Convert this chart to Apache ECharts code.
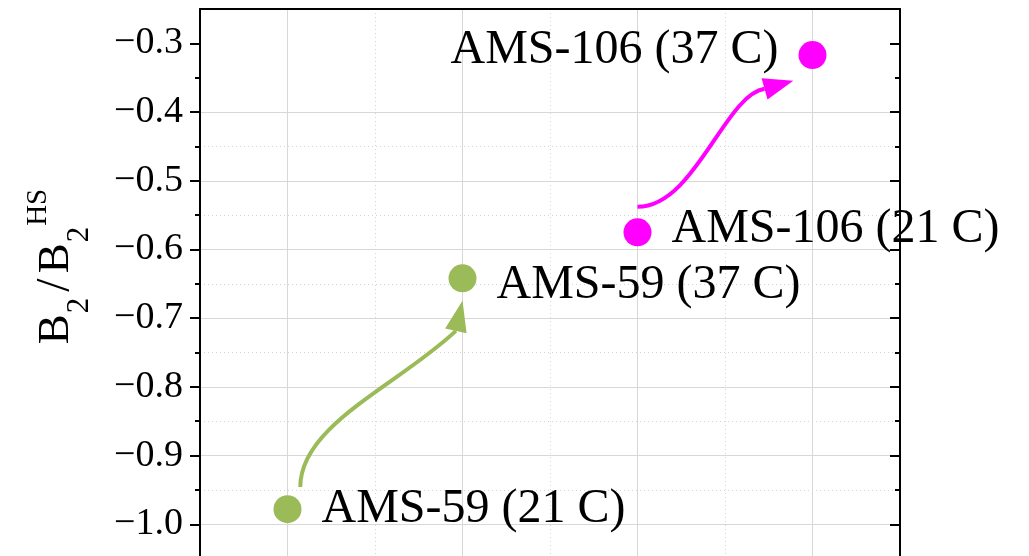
<!DOCTYPE html>
<html><head><meta charset="utf-8">
<script src="https://cdn.jsdelivr.net/npm/echarts@6/dist/echarts.min.js"></script>
<style>html,body{margin:0;padding:0;background:#fff}#c{width:1029px;height:556px}</style>
</head><body><div id="c"></div>
<script>
// ---- data ----
const sampleNames = ['AMS-59 (21 C)', 'AMS-59 (37 C)', 'AMS-106 (21 C)', 'AMS-106 (37 C)'];
const sampleX = [1, 2, 3, 4];
const sampleY = [-0.978, -0.642, -0.575, -0.317];
const sampleGroup = [0, 0, 1, 1];
const yMajorTicks = [-1.1, -1.0, -0.9, -0.8, -0.7, -0.6, -0.5, -0.4, -0.3];
const yMinorTicks = [-1.05, -0.95, -0.85, -0.75, -0.65, -0.55, -0.45, -0.35];
// arrows (data coords): start, control1, control2, end, tip
const arrowGreen = [1.073, -0.9456, 1.073, -0.8553, 1.635, -0.7971, 1.962, -0.7185, 2.0, -0.6748];
const arrowMagenta = [3.0, -0.538, 3.327, -0.538, 3.499, -0.375, 3.726, -0.3662, 3.890, -0.3546];

// ---- styles ----
const groupColors = ['#9BBB59', '#FF00FF'];
const serif = 'Liberation Serif';
const labelSide = ['right', 'right', 'right', 'left'];
const labelShift = [[0, 0], [0, 7], [0, -3], [0, -5]];
const fmt = v => (v < 0 ? '\u2212' : '') + Math.abs(v).toFixed(1);

const chart = echarts.init(document.getElementById('c'), null, {renderer: 'canvas'});

const scatterData = sampleX.map((x, i) => ({
  value: [x, sampleY[i]],
  name: sampleNames[i],
  itemStyle: {color: groupColors[sampleGroup[i]], opacity: 1},
  label: {position: labelSide[i], offset: labelShift[i]}
}));

const gridLine = '#d8d8d8';
const dotLine = '#d4d4d4';
const yBase = {type: 'value', min: -1.1, max: -0.25, gridIndex: 0};

const option = {
  backgroundColor: '#fff',
  animation: false,
  grid: {left: 200, top: 9, width: 700, height: 584, containLabel: false, outerBoundsMode: 'none'},
  xAxis: [
    {type: 'value', position: 'top', min: 0.5, max: 4.5, splitNumber: 4,
     axisLine: {show: true, onZero: false, lineStyle: {color: '#000', width: 2}},
     axisTick: {show: false}, axisLabel: {show: false},
     splitLine: {show: true, showMinLine: false, showMaxLine: false, lineStyle: {color: gridLine, width: 1}}},
    {type: 'value', position: 'top', min: 0, max: 8, interval: 1,
     axisLine: {show: false}, axisTick: {show: false}, axisLabel: {show: false},
     splitLine: {show: true, showMinLine: false, showMaxLine: false, lineStyle: {color: dotLine, width: 1, type: [1, 3]}}}
  ],
  yAxis: [
    Object.assign({}, yBase, {
      position: 'left', interval: 0.1,
      axisLine: {show: true, onZero: false, lineStyle: {color: '#000', width: 2}},
      axisTick: {show: true, inside: false, length: 10, customValues: yMajorTicks, lineStyle: {color: '#000', width: 2}},
      axisLabel: {show: true, customValues: yMajorTicks, formatter: fmt, margin: 17,
        fontFamily: serif, fontSize: 38, color: '#000'},
      splitLine: {show: true, showMinLine: false, showMaxLine: false, lineStyle: {color: gridLine, width: 1}},
      name: '{b|B}{sub|2}{sl|/}{b|B}{sub|2}{sup|HS}',
      nameLocation: 'middle', nameRotate: 90, nameGap: 132,
      nameTextStyle: {padding: [0, 0, 0, 69], color: '#000',
        rich: {
          b: {fontFamily: serif, fontSize: 45, lineHeight: 45, verticalAlign: 'top', padding: [14, 0, 0, 0], color: '#000'},
          sl: {fontFamily: serif, fontSize: 48, lineHeight: 48, verticalAlign: 'top', padding: [12, 5, 0, 5], color: '#000'},
          sub: {fontFamily: serif, fontSize: 31, lineHeight: 31, verticalAlign: 'top', padding: [44, 1, 0, 1], color: '#000'},
          sup: {fontFamily: serif, fontSize: 29, lineHeight: 29, verticalAlign: 'top', padding: [4, 0, 0, 0], color: '#000'}
        }}
    }),
    Object.assign({}, yBase, {
      position: 'left', interval: 0.05,
      axisLine: {show: false},
      axisTick: {show: true, inside: false, length: 5, customValues: yMinorTicks, lineStyle: {color: '#000', width: 2}},
      axisLabel: {show: false},
      splitLine: {show: true, showMinLine: false, showMaxLine: false, lineStyle: {color: dotLine, width: 1, type: [1, 3]}}
    }),
    Object.assign({}, yBase, {
      position: 'right', interval: 0.1,
      axisLine: {show: true, onZero: false, lineStyle: {color: '#000', width: 2}},
      axisTick: {show: true, inside: true, length: 10, customValues: yMajorTicks, lineStyle: {color: '#000', width: 2}},
      axisLabel: {show: false}, splitLine: {show: false}
    }),
    Object.assign({}, yBase, {
      position: 'right', interval: 0.05,
      axisLine: {show: false},
      axisTick: {show: true, inside: true, length: 5, customValues: yMinorTicks, lineStyle: {color: '#000', width: 2}},
      axisLabel: {show: false}, splitLine: {show: false}
    })
  ],
  series: [
    {
      type: 'custom', xAxisIndex: 0, yAxisIndex: 0, z: 3,
      data: [arrowGreen, arrowMagenta],
      renderItem: function (params, api) {
        const p = [];
        for (let i = 0; i < 5; i++) p.push(api.coord([api.value(2 * i), api.value(2 * i + 1)]));
        const color = groupColors[params.dataIndex];
        const tip = p[4], base = p[3];
        const dx = tip[0] - base[0], dy = tip[1] - base[1];
        const len = Math.hypot(dx, dy);
        const nx = -dy / len, ny = dx / len;
        const hw = 11;
        return {type: 'group', children: [
          {type: 'bezierCurve', shape: {x1: p[0][0], y1: p[0][1], cpx1: p[1][0], cpy1: p[1][1],
            cpx2: p[2][0], cpy2: p[2][1], x2: p[3][0], y2: p[3][1]},
           style: {stroke: color, lineWidth: 4, fill: null}},
          {type: 'polygon', shape: {points: [tip, [base[0] + nx * hw, base[1] + ny * hw], [base[0] - nx * hw, base[1] - ny * hw]]},
           style: {fill: color}}
        ]};
      }
    },
    {
      type: 'scatter', xAxisIndex: 0, yAxisIndex: 0, z: 4,
      symbol: 'circle', symbolSize: 28,
      itemStyle: {opacity: 1},
      data: scatterData,
      label: {show: true, formatter: p => p.name, distance: 20,
        fontFamily: serif, fontSize: 48, color: '#000', opacity: 1}
    }
  ]
};
chart.setOption(option);
</script></body></html>
